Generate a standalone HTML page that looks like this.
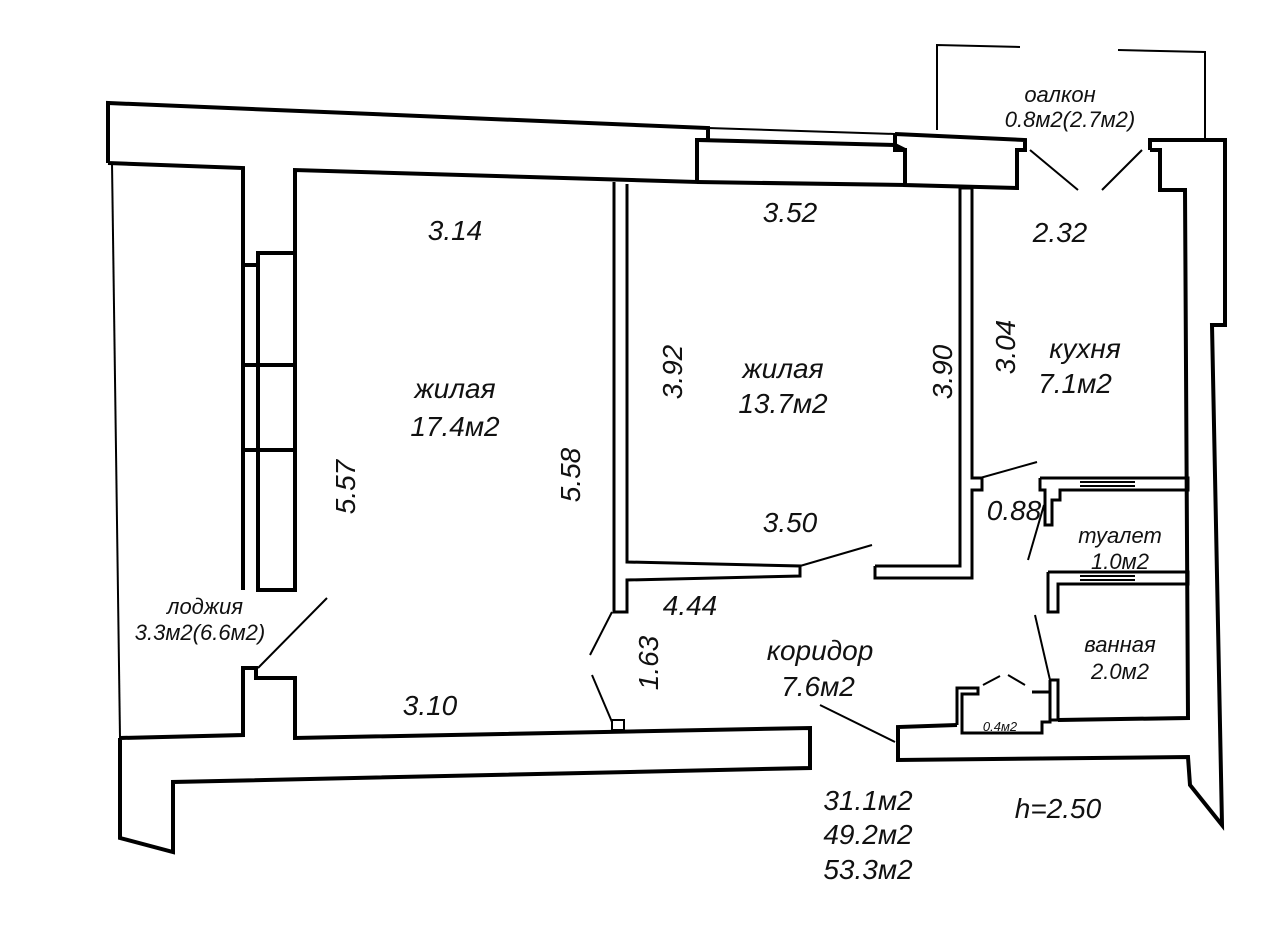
<!DOCTYPE html>
<html><head><meta charset="utf-8"><style>
html,body{margin:0;padding:0;background:#fff;}
svg text{font-family:"Liberation Sans","DejaVu Sans",sans-serif;font-style:italic;fill:#111;text-anchor:middle;}
</style></head><body>
<svg width="1281" height="927" viewBox="0 0 1281 927" xmlns="http://www.w3.org/2000/svg">
<g fill="none" stroke="#000" stroke-width="4" stroke-linejoin="miter">
<!-- top wall left -->
<polyline points="108,163 108,103 708,128 708,140 697,140 697,182 295,170 295,253 258,253 258,265 243,265 243,168 108,163"/>
<!-- window strip top -->
<polyline stroke-width="2" points="708,128 895,134"/>
<polyline stroke-width="2" points="710,140 895,145"/>
<polyline points="697,140 895,145 905,150 905,185 697,182"/>
<!-- pier -->
<polyline points="895,134 1025,140 1025,150 1017,150 1017,188 905,185 905,150 895,150 895,134"/>
<!-- balcony -->
<polyline stroke-width="2" points="937,130 937,45 1020,47"/>
<polyline stroke-width="2" points="1118,50 1205,52 1205,138"/>
<line stroke-width="2" x1="1030" y1="150" x2="1078" y2="190"/>
<line stroke-width="2" x1="1102" y1="190" x2="1142" y2="150"/>
<!-- right wall -->
<polyline points="1150,150 1150,140 1225,140 1225,325 1212,325 1222,825 1190,785 1188,757 898,760 898,727 957,725"/>
<polyline points="1150,150 1160,150 1160,190 1185,190 1188,718 1058,720"/>
<!-- left window column -->
<g stroke-width="4">
<polyline points="258,265 258,590 295,590 295,253"/>
<line x1="243" y1="365" x2="295" y2="365"/>
<line x1="243" y1="450" x2="295" y2="450"/>
<line x1="243" y1="265" x2="243" y2="590"/>
</g>
<line stroke-width="2" x1="112" y1="163" x2="120" y2="738"/>
<!-- bottom wall -->
<polyline points="120,738 243,735 243,668 256,668 256,678 295,678 295,738 810,728 810,768 173,782 173,852 120,838 120,738"/>
<line stroke-width="2" x1="327" y1="598" x2="258" y2="668"/>
<!-- partition room1/room2 -->
<polyline stroke-width="3" points="614,182 614,612 627,612 627,580 800,576 800,566 627,562 627,184"/>
<polyline stroke-width="3" points="875,566 960,566 960,188 972,188 972,478 982,478 982,490 972,490 972,578 875,578 875,566"/>
<line stroke-width="2" x1="612" y1="612" x2="590" y2="655"/>
<line stroke-width="2" x1="592" y1="675" x2="612" y2="722"/>
<rect stroke-width="2" x="612" y="720" width="12" height="10"/>
<line stroke-width="2" x1="800" y1="566" x2="872" y2="545"/>
<line stroke-width="2" x1="980" y1="478" x2="1037" y2="462"/>
<!-- toilet / bath -->
<polyline stroke-width="3" points="1040,478 1188,478 1188,490 1060,490 1060,500 1052,500 1052,525 1045,525 1045,490 1040,490 1040,478"/>
<line stroke-width="2" x1="1080" y1="482" x2="1135" y2="482"/>
<line stroke-width="2" x1="1080" y1="486" x2="1135" y2="486"/>
<line stroke-width="2" x1="1044" y1="505" x2="1028" y2="560"/>
<polyline stroke-width="3" points="1048,572 1188,572 1188,584 1058,584 1058,612 1048,612 1048,572"/>
<line stroke-width="2" x1="1080" y1="576" x2="1135" y2="576"/>
<line stroke-width="2" x1="1080" y1="580" x2="1135" y2="580"/>
<line stroke-width="2" x1="1035" y1="615" x2="1050" y2="680"/>
<polyline stroke-width="3" points="1050,680 1058,680 1058,720 1050,720 1050,680"/>
<!-- closet -->
<polyline stroke-width="3" points="957,725 957,688 978,688 978,694 962,694 962,733 1042,733 1042,722 1050,722 1050,692 1032,692"/>
<line stroke-width="2" x1="983" y1="685" x2="1000" y2="676"/>
<line stroke-width="2" x1="1008" y1="675" x2="1025" y2="685"/>
<line stroke-width="2" x1="820" y1="705" x2="895" y2="742"/>
</g>
<g font-size="28">
<text x="455" y="240">3.14</text>
<text x="790" y="222">3.52</text>
<text x="1060" y="242">2.32</text>
<text x="783" y="378">жилая</text>
<text x="783" y="413">13.7м2</text>
<text x="1085" y="358">кухня</text>
<text x="1075" y="393">7.1м2</text>
<text x="455" y="398">жилая</text>
<text x="455" y="436">17.4м2</text>
<text x="790" y="532">3.50</text>
<text x="1014" y="520">0.88</text>
<text x="690" y="615">4.44</text>
<text x="820" y="660">коридор</text>
<text x="818" y="696">7.6м2</text>
<text x="430" y="715">3.10</text>
<text x="868" y="810">31.1м2</text>
<text x="868" y="844">49.2м2</text>
<text x="868" y="879">53.3м2</text>
<text x="1058" y="818">h=2.50</text>
<text transform="translate(682,372) rotate(-90)">3.92</text>
<text transform="translate(952,372) rotate(-90)">3.90</text>
<text transform="translate(1015,347) rotate(-90)">3.04</text>
<text transform="translate(355,487) rotate(-90)">5.57</text>
<text transform="translate(580,475) rotate(-90)">5.58</text>
<text transform="translate(658,663) rotate(-90)">1.63</text>
</g>
<g font-size="22">
<text x="1120" y="543">туалет</text>
<text x="1120" y="569">1.0м2</text>
<text x="1120" y="652">ванная</text>
<text x="1120" y="679">2.0м2</text>
<text x="205" y="614">лоджия</text>
<text x="200" y="640">3.3м2(6.6м2)</text>
<text x="1060" y="102">оалкон</text>
<text x="1070" y="127">0.8м2(2.7м2)</text>
</g>
<text x="1000" y="731" font-size="13">0.4м2</text>
</svg>
</body></html>
